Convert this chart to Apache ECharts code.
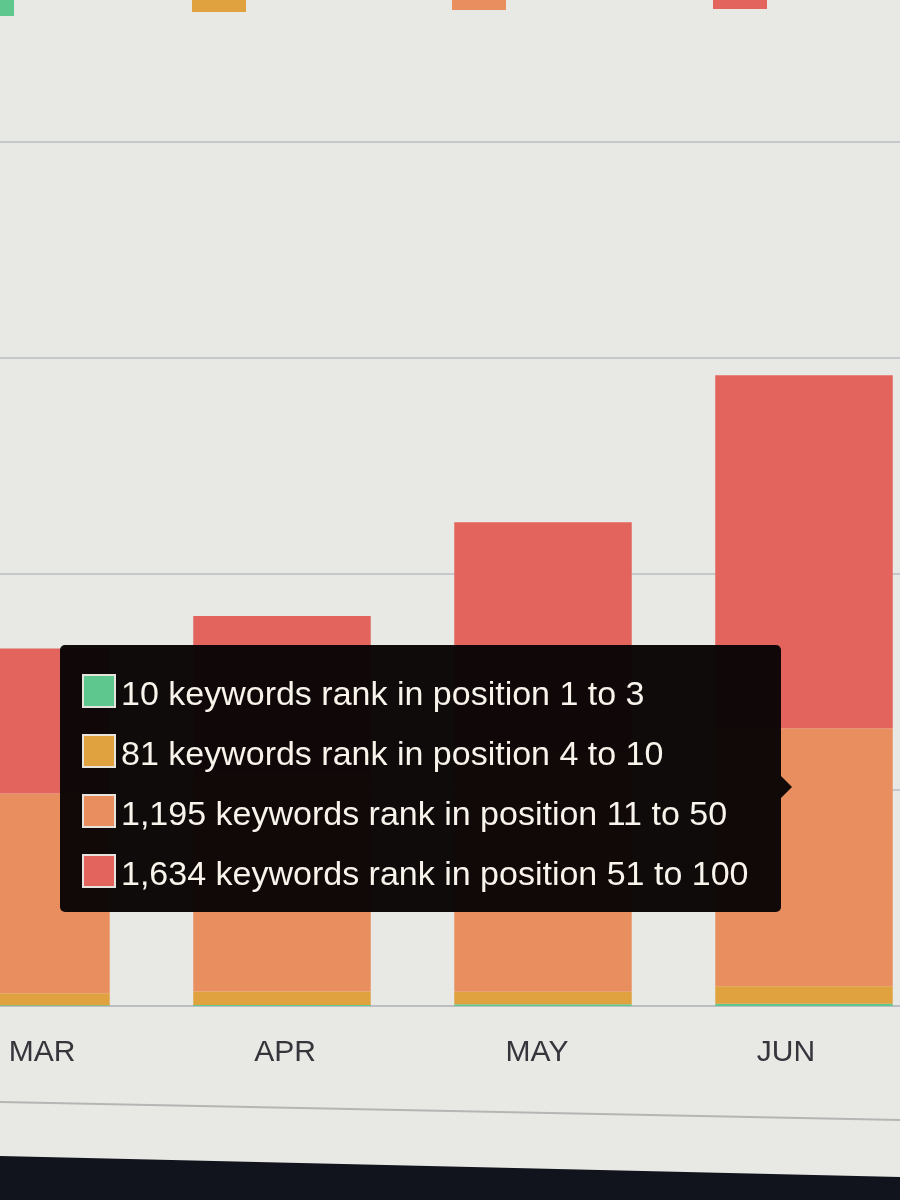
<!DOCTYPE html>
<html><head><meta charset="utf-8">
<script src="https://cdn.jsdelivr.net/npm/echarts@6/dist/echarts.min.js"></script>
<style>html,body{margin:0;padding:0;background:#e8e8e4;overflow:hidden}#chart{width:900px;height:1200px}</style>
</head><body><div id="chart"></div>
<script>
// ---- data ----
const months = ['MAR', 'APR', 'MAY', 'JUN'];
const ranges = ['1 to 3', '4 to 10', '11 to 50', '51 to 100'];
const rank1to3 = [4, 5, 8, 10];
const rank4to10 = [55, 62, 58, 81];
const rank11to50 = [925, 1010, 1100, 1195];
const rank51to100 = [671, 728, 1074, 1634];
const yTicks = [0, 1000, 2000, 3000, 4000, 5000];

// ---- styles ----
const seriesData = [rank1to3, rank4to10, rank11to50, rank51to100];
const colors = ['#5ec78d', '#e0a23e', '#e98f5f', '#e3645d'];
const labelShift = [21, 3, -6, -18];
const legendLeft = [-40, 192, 452, 713];
const legendTop = [-16, -20, -22, -23];
const tipBg = 'rgba(11,6,6,0.98)';

const chart = echarts.init(document.getElementById('chart'), null, {renderer: 'canvas'});

const option = {
  animation: false,
  backgroundColor: '#e8e8e4',
  grid: {left: -109.5, width: 1044, top: -74, bottom: 194, containLabel: false, outerBoundsMode: 'none'},
  legend: ranges.map((r, i) => ({
    data: ['Position ' + r],
    left: legendLeft[i], top: legendTop[i], padding: 0,
    itemWidth: 54, itemHeight: 32, icon: 'rect',
    selectedMode: false, formatter: () => ''
  })),
  xAxis: {
    type: 'category',
    data: months.map((m, i) => ({
      value: m,
      textStyle: {padding: labelShift[i] > 0 ? [0, 0, 0, 2 * labelShift[i]] : [0, -2 * labelShift[i], 0, 0]}
    })),
    axisTick: {show: false},
    axisLine: {lineStyle: {color: '#babdc1', width: 2}},
    axisLabel: {fontSize: 30, color: '#35353c', margin: 32, fontFamily: 'Liberation Sans, Arial, sans-serif'}
  },
  yAxis: {
    type: 'value', min: yTicks[0], max: yTicks[yTicks.length - 1], interval: yTicks[1] - yTicks[0],
    axisLabel: {show: false}, axisLine: {show: false}, axisTick: {show: false},
    splitLine: {lineStyle: {color: '#c4c8cc', width: 2}}
  },
  tooltip: {
    trigger: 'item', triggerOn: 'none', alwaysShowContent: true, transitionDuration: 0,
    position: function () { return [60, 645]; },
    backgroundColor: tipBg, borderWidth: 0, borderRadius: 5,
    padding: [15, 32, 12, 22],
    extraCssText: 'box-shadow:none;',
    textStyle: {color: '#f8f4ec', fontSize: 34, fontFamily: 'Liberation Sans, Arial, sans-serif'},
    formatter: function (p) {
      const i = p.dataIndex;
      let html = '<div style="position:relative;font-family:\'Liberation Sans\',Arial,sans-serif">';
      seriesData.forEach((d, k) => {
        html += '<div style="height:60px;line-height:60px;white-space:nowrap">' +
          '<span style="display:inline-block;width:30px;height:30px;border:2px solid #e6e2dc;background:' + colors[k] +
          ';vertical-align:middle;margin-right:5px;margin-top:-4px"></span>' +
          '<span style="vertical-align:middle">' + d[i].toLocaleString('en-US') +
          ' keywords rank in position ' + ranges[k] + '</span></div>';
      });
      html += '<div style="position:absolute;right:-43px;top:116px;width:0;height:0;border-top:11px solid transparent;border-bottom:11px solid transparent;border-left:11px solid ' + tipBg + '"></div>';
      return html + '</div>';
    }
  },
  series: seriesData.map((d, i) => ({
    name: 'Position ' + ranges[i], type: 'bar', stack: 'total', data: d,
    barWidth: '68%', itemStyle: {color: colors[i]}, emphasis: {disabled: true}
  })),
  graphic: [
    {type: 'line', shape: {x1: 0, y1: 1102, x2: 900, y2: 1120}, style: {stroke: '#b5b5b5', lineWidth: 2}},
    {type: 'polygon', shape: {points: [[0, 1156], [900, 1177], [900, 1200], [0, 1200]]}, style: {fill: '#12141d'}}
  ]
};
chart.setOption(option);
chart.dispatchAction({type: 'showTip', seriesIndex: 3, dataIndex: 3});
</script></body></html>
